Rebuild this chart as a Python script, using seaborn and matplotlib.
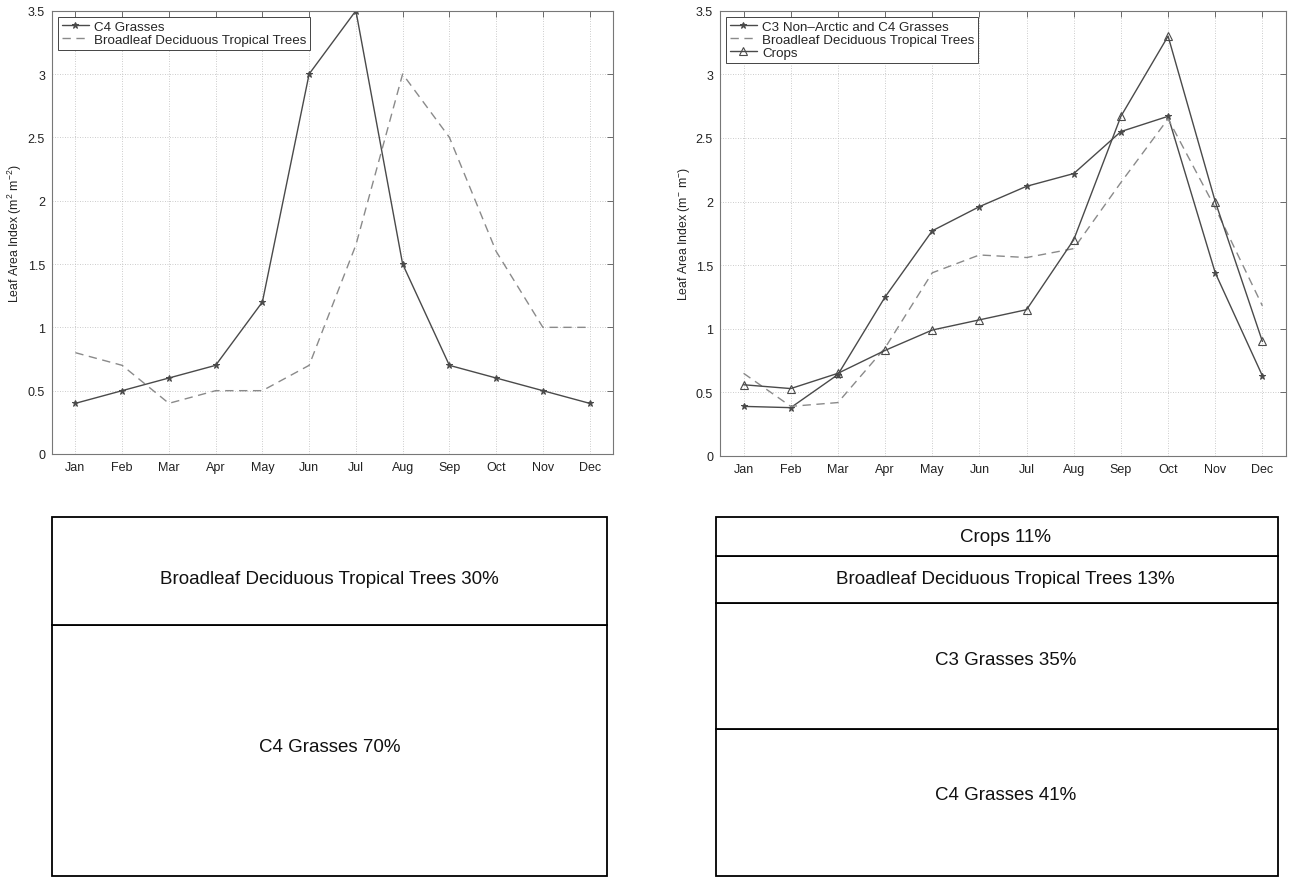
import numpy as np
import pandas as pd
import matplotlib
matplotlib.use("Agg")
import matplotlib.pyplot as plt
import seaborn as sns
from matplotlib.ticker import FuncFormatter

# ---------------- data ----------------
months = ["Jan", "Feb", "Mar", "Apr", "May", "Jun", "Jul", "Aug", "Sep", "Oct", "Nov", "Dec"]

left_c4_grasses = [0.4, 0.5, 0.6, 0.7, 1.2, 3.0, 3.5, 1.5, 0.7, 0.6, 0.5, 0.4]
left_bdt_trees = [0.8, 0.7, 0.4, 0.5, 0.5, 0.7, 1.65, 3.0, 2.5, 1.6, 1.0, 1.0]

right_c3c4_grasses = [0.39, 0.38, 0.64, 1.25, 1.77, 1.96, 2.12, 2.22, 2.55, 2.67, 1.44, 0.63]
right_bdt_trees = [0.65, 0.39, 0.42, 0.85, 1.44, 1.58, 1.56, 1.63, 2.15, 2.65, 1.95, 1.18]
right_crops = [0.56, 0.53, 0.65, 0.83, 0.99, 1.07, 1.15, 1.70, 2.67, 3.30, 2.00, 0.90]

left_cover_labels = ["C4 Grasses", "Broadleaf Deciduous Tropical Trees"]
left_cover_pct = [70, 30]
right_cover_labels = ["C4 Grasses", "C3 Grasses", "Broadleaf Deciduous Tropical Trees", "Crops"]
right_cover_pct = [41, 35, 13, 11]

y_ticks = [0, 0.5, 1, 1.5, 2, 2.5, 3, 3.5]

# ---------------- style ----------------
sns.set_theme(style="white")
plt.rcParams["font.family"] = ["Liberation Sans", "DejaVu Sans"]
plt.rcParams["mathtext.fontset"] = "custom"
plt.rcParams["mathtext.rm"] = "Liberation Sans"
plt.rcParams["mathtext.it"] = "Liberation Sans"

W, H = 1289, 879
fig = plt.figure(figsize=(W / 100, H / 100), dpi=100)


def px_axes(x0, y0, x1, y1):
    return fig.add_axes([x0 / W, 1 - y1 / H, (x1 - x0) / W, (y1 - y0) / H])


solid_c = "#4a4a4a"
dash_c = "#8a8a8a"


def style_line_axes(ax, ylabel):
    x = np.arange(len(months))
    ax.set_xlim(-0.5, len(months) - 0.5)
    ax.set_ylim(0, 3.5)
    ax.set_xticks(x)
    ax.set_xticklabels(months)
    ax.set_yticks(y_ticks)
    ax.yaxis.set_major_formatter(FuncFormatter(lambda v, p: f"{v:g}"))
    ax.tick_params(axis="both", direction="in", length=4, width=0.6, labelsize=9,
                   top=True, right=True, colors="#555555", labelcolor="#222222", pad=5)
    ax.grid(True, linestyle=(0, (1, 2)), linewidth=0.6, color="#bbbbbb")
    for s in ax.spines.values():
        s.set_color("#777777")
        s.set_linewidth(0.8)
    ax.set_ylabel(ylabel, fontsize=8.8, color="#222222", labelpad=3)
    ax.set_xlabel("")
    ax.legend(loc="upper left", fontsize=9.6, frameon=True, fancybox=False,
              edgecolor="#444444", framealpha=1, borderaxespad=0.45,
              handlelength=2.0, labelspacing=0.05, borderpad=0.3,
              handletextpad=0.4).get_frame().set_linewidth(0.7)


xpos = np.arange(len(months))

# ---------------- left line chart ----------------
ax1 = px_axes(52, 11.7, 613, 455)
sns.lineplot(x=xpos, y=left_c4_grasses, ax=ax1, color=solid_c, linewidth=1.0,
             marker="*", markersize=4.5, markeredgecolor=solid_c, label="C4 Grasses")
sns.lineplot(x=xpos, y=left_bdt_trees, ax=ax1, color=dash_c, linewidth=1.0,
             linestyle=(0, (6, 4)), label="Broadleaf Deciduous Tropical Trees")
style_line_axes(ax1, "Leaf Area Index (m$^{2}$ m$^{-2}$)")

# ---------------- right line chart ----------------
ax2 = px_axes(720, 11.7, 1286, 457)
sns.lineplot(x=xpos, y=right_c3c4_grasses, ax=ax2, color=solid_c, linewidth=1.0,
             marker="*", markersize=4.5, markeredgecolor=solid_c,
             label="C3 Non\u2013Arctic and C4 Grasses")
sns.lineplot(x=xpos, y=right_bdt_trees, ax=ax2, color=dash_c, linewidth=1.0,
             linestyle=(0, (6, 4)), label="Broadleaf Deciduous Tropical Trees")
sns.lineplot(x=xpos, y=right_crops, ax=ax2, color=solid_c, linewidth=1.0,
             marker="^", markersize=6, markerfacecolor="none",
             markeredgecolor=solid_c, markeredgewidth=0.8, label="Crops")
style_line_axes(ax2, "Leaf Area Index (m$^{-}$ m$^{-}$)")


# ---------------- cover boxes ----------------
def cover_box(ax, labels, pcts, x_shift=0.0, y_shifts=None):
    ax.set_xlim(0, 1)
    ax.set_ylim(0, sum(pcts))
    bottoms = np.concatenate([[0], np.cumsum(pcts)[:-1]])
    bars = ax.bar([0.5] * len(pcts), pcts, bottom=bottoms, width=1.0,
                  color="white", edgecolor="black", linewidth=1.3)
    for b in bars:
        b.set_clip_on(False)
    for i, (lab, p, b0) in enumerate(zip(labels, pcts, bottoms)):
        dy = 0 if y_shifts is None else y_shifts[i]
        ax.text(0.5 + x_shift, b0 + p / 2 + dy, f"{lab} {p}%", ha="center",
                va="center", fontsize=13.5, color="#111111")
    ax.axis("off")


ax3 = px_axes(52, 518, 607, 877)
cover_box(ax3, left_cover_labels, left_cover_pct, x_shift=0.0, y_shifts=[1.2, -2.2])

ax4 = px_axes(716, 518, 1278, 877)
cover_box(ax4, right_cover_labels, right_cover_pct, x_shift=0.015,
          y_shifts=[2.2, 1.8, 0.3, 0.0])

fig.savefig("out.png", dpi=100, facecolor="white")
